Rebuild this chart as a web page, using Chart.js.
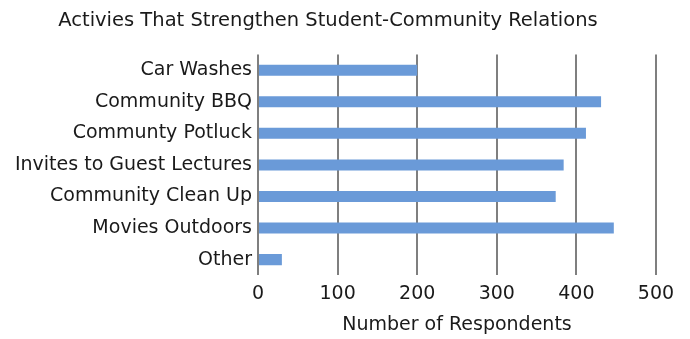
<!DOCTYPE html>
<html>
<head>
<meta charset="utf-8">
<script src="https://cdn.jsdelivr.net/npm/chart.js@4/dist/chart.umd.min.js"></script>
<style>
  html, body { margin: 0; padding: 0; background: #fff; }
  #wrap { width: 690px; height: 339px; }
</style>
</head>
<body>
<div id="wrap"><canvas id="activityChart"></canvas></div>
<script>
// Survey data
var activities = ["Car Washes", "Community BBQ", "Communty Potluck", "Invites to Guest Lectures",
                  "Community Clean Up", "Movies Outdoors", "Other"];
var respondents = [200, 431, 412, 384, 374, 447, 30];
var xTicks = [0, 100, 200, 300, 400, 500];

Chart.defaults.font.family = "'DejaVu Sans', Verdana, sans-serif";
Chart.defaults.font.size = 19;
Chart.defaults.color = '#1a1a1a';

var ctx = document.getElementById('activityChart').getContext('2d');
var activityChart = new Chart(ctx, {
    type: 'bar',
    data: {
        labels: activities,
        datasets: [{
            data: respondents,
            backgroundColor: '#6a9ad8',
            borderWidth: 0,
            categoryPercentage: 1,
            barPercentage: 0.35
        }]
    },
    options: {
      indexAxis: 'y',
      responsive: true,
      maintainAspectRatio: false,
      animation: false,
      layout: {
        padding: { left: 0, right: 34, top: 0, bottom: 0 }
      },
      plugins: {
        legend: { display: false },
        tooltip: { enabled: false },
        title: {
          display: true,
          text: 'Activies That Strengthen Student-Community Relations',
          font: { size: 19.5, weight: 'normal' },
          color: '#1a1a1a',
          padding: { top: 9, bottom: 22 }
        }
      },
      scales: {
        x: {
          min: 0,
          max: 500,
          afterBuildTicks: function(scale) {
            scale.ticks = xTicks.map(function(v) { return { value: v }; });
          },
          grid: {
            color: '#7f7f7f',
            lineWidth: 2,
            drawTicks: false
          },
          border: { display: false },
          ticks: { padding: 7 },
          title: {
            display: true,
            text: 'Number of Respondents',
            font: { size: 19 },
            padding: { top: 1, bottom: 3 }
          }
        },
        y: {
          grid: { display: false, drawTicks: false },
          border: { display: false },
          ticks: { padding: 6 },
          afterFit: function(scale) {
            scale.width = 258;
          }
        }
      }
    }
});
</script>
</body>
</html>
